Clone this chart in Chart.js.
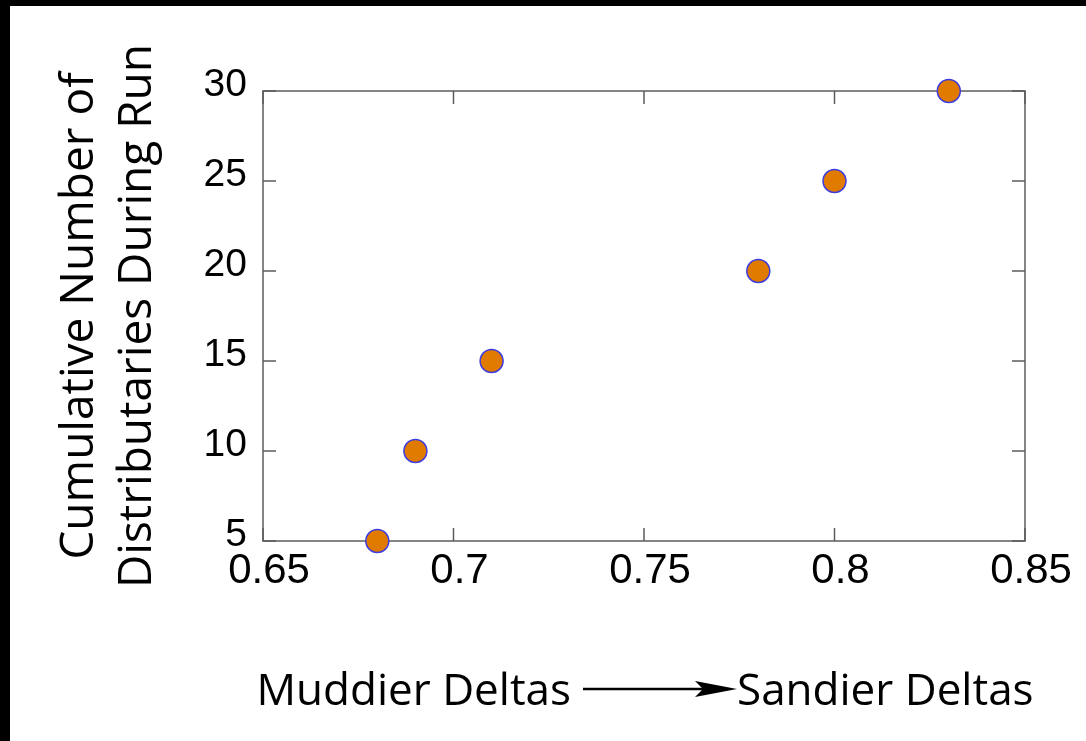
<!DOCTYPE html>
<html>
<head>
<meta charset="utf-8">
<script src="https://cdn.jsdelivr.net/npm/chart.js@4.4.1/dist/chart.umd.min.js"></script>
<style>
  html, body { margin: 0; padding: 0; background: #fff; }
  #wrap {
    position: absolute; left: 0; top: 0;
    width: 1076px; height: 735px;
    border-top: 6px solid #000; border-left: 10px solid #000;
  }
  canvas { display: block; }
</style>
</head>
<body>
<div id="wrap"><canvas id="deltaChart" width="1076" height="735"></canvas></div>
<script>
// sand fraction proxy (x) vs cumulative distributaries (y)
const x_values = [0.68, 0.69, 0.71, 0.78, 0.80, 0.83]
const y_values = [5, 10, 15, 20, 25, 30]

const x_ticks = [0.65, 0.7, 0.75, 0.8, 0.85]
const y_ticks = [5, 10, 15, 20, 25, 30]

const y_title = ['Cumulative Number of', 'Distributaries During Run']
const x_title_left = 'Muddier Deltas'
const x_title_right = 'Sandier Deltas'

const TICK_LEN = 13
const FRAME_COLOR = '#5c5c5c'
const TITLE_FONT = "44px 'Open Sans'"

// box + inward ticks on all four sides
const framePlugin = {
  id: 'frame',
  beforeDatasetsDraw (chart) {
    const { ctx, chartArea: a, scales } = chart
    ctx.save()
    ctx.strokeStyle = FRAME_COLOR
    ctx.lineWidth = 1.5
    ctx.strokeRect(a.left, a.top, a.right - a.left, a.bottom - a.top)
    ctx.beginPath()
    scales.x.ticks.forEach(t => {
      const px = scales.x.getPixelForValue(t.value)
      ctx.moveTo(px, a.bottom)
      ctx.lineTo(px, a.bottom - TICK_LEN)
      ctx.moveTo(px, a.top)
      ctx.lineTo(px, a.top + TICK_LEN)
    })
    scales.y.ticks.forEach(t => {
      const py = scales.y.getPixelForValue(t.value)
      ctx.moveTo(a.left, py)
      ctx.lineTo(a.left + TICK_LEN, py)
      ctx.moveTo(a.right, py)
      ctx.lineTo(a.right - TICK_LEN, py)
    })
    ctx.stroke()
    ctx.restore()
  },
  afterDraw (chart) {
    // "Muddier Deltas ----> Sandier Deltas" under the axis
    const { ctx } = chart
    const baseY = 699
    const arrowStart = 573
    const arrowEnd = 727
    ctx.save()
    ctx.font = TITLE_FONT
    ctx.fillStyle = '#000'
    ctx.textBaseline = 'alphabetic'
    ctx.textAlign = 'right'
    ctx.fillText(x_title_left, arrowStart - 12, baseY)
    ctx.textAlign = 'left'
    ctx.fillText(x_title_right, arrowEnd, baseY)
    const ay = baseY - 16
    ctx.strokeStyle = '#000'
    ctx.lineWidth = 2.5
    ctx.beginPath()
    ctx.moveTo(arrowStart, ay)
    ctx.lineTo(arrowEnd - 30, ay)
    ctx.stroke()
    ctx.beginPath()
    ctx.moveTo(arrowEnd, ay)
    ctx.lineTo(arrowEnd - 42, ay - 8)
    ctx.lineTo(arrowEnd - 34, ay)
    ctx.lineTo(arrowEnd - 42, ay + 8)
    ctx.closePath()
    ctx.fill()
    ctx.restore()
  }
}

new Chart(document.getElementById('deltaChart'), {
  type: 'scatter',
  data: {
    datasets: [
      {
        data: x_values.map((v, i) => ({ x: v, y: y_values[i] })),
        backgroundColor: '#e07b00',
        borderColor: '#3c3ce0',
        borderWidth: 1.5,
        pointRadius: 11.5,
        pointHoverRadius: 11.5,
        clip: false
      }
    ]
  },
  options: {
    responsive: false,
    animation: false,
    events: [],
    layout: { padding: { top: 85, right: 61, left: 0, bottom: 0 } },
    plugins: {
      legend: { display: false },
      tooltip: { enabled: false }
    },
    scales: {
      x: {
        type: 'linear',
        min: 0.65,
        max: 0.85,
        afterFit: s => { s.height = 200 },
        afterBuildTicks: s => { s.ticks = x_ticks.map(v => ({ value: v })) },
        grid: { display: false, drawTicks: false },
        border: { display: false },
        ticks: {
          color: '#000',
          font: { family: "'Liberation Sans'", size: 42 },
          padding: 5,
          labelOffset: 6,
          maxRotation: 0,
          autoSkip: false,
          callback: v => String(v)
        }
      },
      y: {
        type: 'linear',
        min: 5,
        max: 30,
        afterFit: s => { s.width = 253 },
        afterBuildTicks: s => { s.ticks = y_ticks.map(v => ({ value: v })) },
        grid: { display: false, drawTicks: false },
        border: { display: false },
        title: {
          display: true,
          text: y_title,
          color: '#000',
          font: { family: "'Open Sans'", size: 46, lineHeight: 1.28 },
          padding: { top: 40, bottom: 0 }
        },
        ticks: {
          color: '#000',
          font: { family: "'Liberation Sans'", size: 39 },
          padding: 16,
          labelOffset: -6,
          autoSkip: false,
          callback: v => String(v)
        }
      }
    }
  },
  plugins: [framePlugin]
})
</script>
</body>
</html>
